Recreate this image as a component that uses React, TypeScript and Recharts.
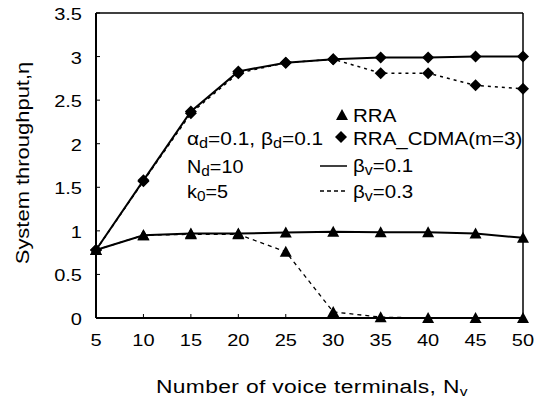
import React from 'react';
import { LineChart, Line, XAxis, YAxis, ReferenceLine, Customized } from 'recharts';

const voiceTerminals = [5, 10, 15, 20, 25, 30, 35, 40, 45, 50];
const rraBeta01 = [0.78, 0.95, 0.97, 0.97, 0.98, 0.99, 0.985, 0.985, 0.97, 0.92];
const rraBeta03 = [0.78, 0.95, 0.96, 0.96, 0.76, 0.07, 0.01, 0.0, 0.0, 0.0];
const cdmaBeta01 = [0.78, 1.58, 2.37, 2.83, 2.93, 2.97, 2.99, 2.99, 3.0, 3.0];
const cdmaBeta03 = [0.78, 1.57, 2.35, 2.81, 2.93, 2.97, 2.81, 2.81, 2.67, 2.63];
const xTicks = [5, 10, 15, 20, 25, 30, 35, 40, 45, 50];
const yTicks = [0, 0.5, 1, 1.5, 2, 2.5, 3, 3.5];

const data = voiceTerminals.map((n, i) => ({
  n,
  rra1: rraBeta01[i],
  rra3: rraBeta03[i],
  cdma1: cdmaBeta01[i],
  cdma3: cdmaBeta03[i],
}));

const FONT = '"Liberation Sans", Arial, Helvetica, sans-serif';
const SX = 1.25;

const triPath = (cx: number, cy: number) =>
  `M${cx},${cy - 6} L${cx + 6},${cy + 5} L${cx - 6},${cy + 5} Z`;
const diaPath = (cx: number, cy: number) =>
  `M${cx},${cy - 6} L${cx + 6},${cy} L${cx},${cy + 6} L${cx - 6},${cy} Z`;

const TriDot = (p: any) => {
  if (p.cx == null || p.cy == null) return <g key={p.index} />;
  return <path key={p.index} d={triPath(p.cx, p.cy)} fill="#000" stroke="none" />;
};
const DiaDot = (p: any) => {
  if (p.cx == null || p.cy == null) return <g key={p.index} />;
  return <path key={p.index} d={diaPath(p.cx, p.cy)} fill="#000" stroke="none" />;
};

const XTick = (p: any) => {
  const { x, y, payload } = p;
  return (
    <g transform={`translate(${x},${y + 32}) scale(${SX},1)`}>
      <text x={0} y={0} textAnchor="middle" fontFamily={FONT} fontSize={16} fill="#000">
        {payload.value}
      </text>
    </g>
  );
};

const YTick = (p: any) => {
  const { x, y, payload } = p;
  return (
    <g transform={`translate(${x},${y + 7}) scale(${SX},1)`}>
      <text x={0} y={0} textAnchor="end" fontFamily={FONT} fontSize={16} fill="#000">
        {payload.value}
      </text>
    </g>
  );
};

const T = ({ x, y, children, size = 18, sx = 1.15 }: any) => (
  <g transform={`translate(${x},${y}) scale(${sx},1)`}>
    <text x={0} y={0} fontFamily={FONT} fontSize={size} fill="#000">
      {children}
    </text>
  </g>
);

const Sub = ({ children }: any) => (
  <tspan fontSize={14} dy={3}>
    {children}
  </tspan>
);
const Up = ({ children }: any) => <tspan dy={-3}>{children}</tspan>;

const Annotations = () => (
  <g>
    <T x={187} y={145} sx={1.16}>
      α<Sub>d</Sub>
      <Up>=0.1, β</Up>
      <Sub>d</Sub>
      <Up>=0.1</Up>
    </T>
    <T x={187} y={173} sx={1.1}>
      N<Sub>d</Sub>
      <Up>=10</Up>
    </T>
    <T x={187} y={198} sx={1.1}>
      k<Sub>0</Sub>
      <Up>=5</Up>
    </T>
    <path d={triPath(342, 115)} fill="#000" />
    <T x={353} y={122} sx={1.14}>RRA</T>
    <path d={diaPath(341, 137)} fill="#000" />
    <T x={353} y={145} sx={1.14}>RRA_CDMA(m=3)</T>
    <line x1={320} y1={166} x2={347} y2={166} stroke="#000" strokeWidth={1.5} />
    <T x={353} y={172} sx={1.14}>
      β<Sub>v</Sub>
      <Up>=0.1</Up>
    </T>
    <line x1={320} y1={191} x2={347} y2={191} stroke="#000" strokeWidth={1.5} strokeDasharray="4 3" />
    <T x={353} y={198} sx={1.14}>
      β<Sub>v</Sub>
      <Up>=0.3</Up>
    </T>
    <g transform="translate(23,163) rotate(-90) scale(1.22,1)">
      <text x={0} y={0} textAnchor="middle" dominantBaseline="central" fontFamily={FONT} fontSize={18} fill="#000">
        System throughput,η
      </text>
    </g>
    <g transform="translate(312,393) scale(1.2,1)">
      <text x={0} y={0} textAnchor="middle" fontFamily={FONT} fontSize={19} fill="#000" letterSpacing={0.3}>
        Number of voice terminals, N
        <tspan fontSize={13} dy={3}>v</tspan>
      </text>
    </g>
  </g>
);

export default function App() {
  return (
    <div style={{ position: 'absolute', left: 0, top: 0, background: '#fff' }}>
      <LineChart
        width={543}
        height={404}
        data={data}
        margin={{ top: 13, right: 20, bottom: 0, left: 0 }}
      >
        <XAxis
          dataKey="n"
          type="number"
          domain={[5, 50]}
          ticks={xTicks}
          height={86}
          tickSize={-4}
          tickMargin={0}
          tick={<XTick />}
          axisLine={{ stroke: '#000', strokeWidth: 2 }}
          tickLine={{ stroke: '#000', strokeWidth: 1 }}
          interval={0}
        />
        <YAxis
          type="number"
          domain={[0, 3.5]}
          ticks={yTicks}
          width={96}
          tickSize={-4}
          tickMargin={18}
          tick={<YTick />}
          axisLine={{ stroke: '#000', strokeWidth: 2 }}
          tickLine={{ stroke: '#000', strokeWidth: 1 }}
          interval={0}
        />
        <ReferenceLine y={3.5} stroke="#000" strokeWidth={1.5} ifOverflow="visible" />
        <ReferenceLine x={50} stroke="#000" strokeWidth={1.5} ifOverflow="visible" />
        <Line
          dataKey="rra3"
          stroke="#000"
          strokeWidth={1.3}
          strokeDasharray="4 4"
          dot={TriDot}
          isAnimationActive={false}
        />
        <Line
          dataKey="cdma3"
          stroke="#000"
          strokeWidth={1.5}
          strokeDasharray="3 4"
          dot={DiaDot}
          isAnimationActive={false}
        />
        <Line dataKey="rra1" stroke="#000" strokeWidth={2} dot={TriDot} isAnimationActive={false} />
        <Line dataKey="cdma1" stroke="#000" strokeWidth={2} dot={DiaDot} isAnimationActive={false} />
        <Customized component={Annotations} />
      </LineChart>
    </div>
  );
}
